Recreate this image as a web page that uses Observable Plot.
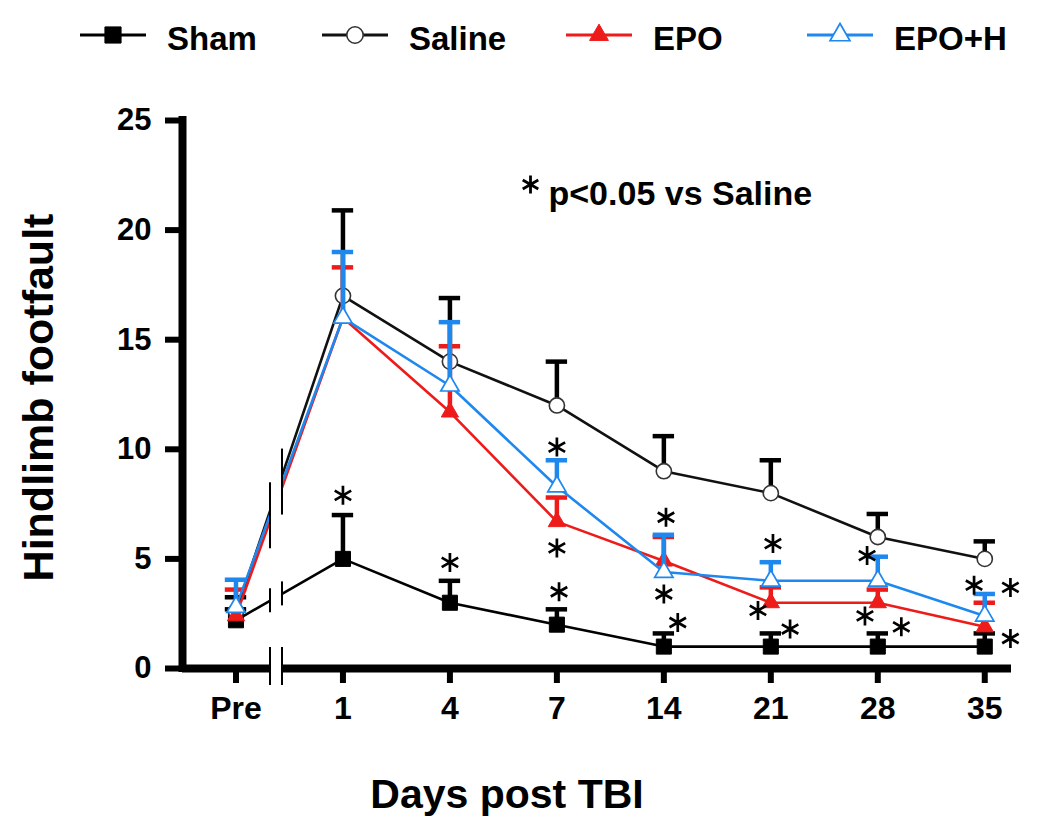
<!DOCTYPE html>
<html>
<head>
<meta charset="utf-8">
<script src="https://cdn.jsdelivr.net/npm/d3@7"></script>
<script src="https://cdn.jsdelivr.net/npm/@observablehq/plot@0.6"></script>
<style>
  html, body { margin: 0; padding: 0; background: #fff; }
  svg { display: block; }
</style>
</head>
<body>
<div id="legend"></div>
<div id="chart"></div>
<script>
// ---------------- data ----------------
const dayLabels = ["Pre", "1", "4", "7", "14", "21", "28", "35"];

const shamMean   = [2.2, 5.0, 3.0, 2.0, 1.0, 1.0, 1.0, 1.0];
const shamSem    = [0.5, 2.0, 1.0, 0.7, 0.6, 0.6, 0.6, 0.6];
const salineMean = [2.6, 17.0, 14.0, 12.0, 9.0, 8.0, 6.0, 5.0];
const salineSem  = [0.65, 3.9, 2.9, 2.0, 1.6, 1.5, 1.05, 0.8];
const epoMean    = [2.4, 16.0, 11.7, 6.7, 4.9, 3.0, 3.0, 1.9];
const epoSem     = [1.2, 2.3, 3.0, 1.1, 1.1, 0.7, 0.6, 1.1];
const epohMean   = [2.8, 16.0, 12.9, 8.3, 4.4, 4.0, 4.0, 2.4];
const epohSem    = [1.25, 3.0, 2.9, 1.2, 1.7, 0.85, 1.1, 1.0];

// significance asterisks (x in day-slot units, y in footfault units)
const starX = [1, 2, 3, 3, 3.02, 4.02, 4, 4.13, 5.02, 4.88, 5.18, 5.9, 5.88, 6.22, 6.9, 7.24, 7.24];
const starY = [7.9, 4.84, 10.1, 5.5, 3.5, 6.9, 3.4, 2.1, 5.7, 2.65, 1.8, 5.15, 2.4, 1.9, 3.8, 3.7, 1.37];

const yTicks = [0, 5, 10, 15, 20, 25];
const seriesNames = ["Sham", "Saline", "EPO", "EPO+H"];
const noteText = "p<0.05 vs Saline";
const xTitle = "Days post TBI";
const yTitle = "Hindlimb footfault";

// axis break position, as fraction of the Pre -> day 1 interval
const breakFrac = [0.318, 0.43];

// ---------------- styles ----------------
const FONT = "'Liberation Sans', Arial, Helvetica, sans-serif";
const RED = "#ee1b1b";
const BLUE = "#1e88ee";
const styles = {
  "Sham":   {line: "#000", err: "#000", symbol: "square",   r: 8.5, fill: "#000", stroke: "#000", sw: 1},
  "Saline": {line: "#111", err: "#000", symbol: "circle",   r: 7.6, fill: "#fff", stroke: "#333", sw: 1.6},
  "EPO":    {line: RED,    err: RED,    symbol: "triangle", r: 6.4, fill: RED,    stroke: RED,    sw: 1},
  "EPO+H":  {line: BLUE,   err: BLUE,   symbol: "triangle", r: 6.8, fill: "#fff", stroke: BLUE,   sw: 1.7}
};

const means = {"Sham": shamMean, "Saline": salineMean, "EPO": epoMean, "EPO+H": epohMean};
const sems  = {"Sham": shamSem,  "Saline": salineSem,  "EPO": epoSem,  "EPO+H": epohSem};

const rowsFor = name => means[name].map((m, i) => ({series: name, x: i, y: m, top: m + sems[name][i]}));

// ---------------- legend (HTML-side SVG above the plot) ----------------
(function legend() {
  const W = 1050, H = 70;
  const symX = [80, 322, 566, 807];
  const svg = d3.select("#legend").append("svg").attr("width", W).attr("height", H);
  seriesNames.forEach((name, k) => {
    const s = styles[name];
    const g = svg.append("g").attr("transform", `translate(${symX[k]},35)`);
    g.append("line").attr("x1", 0).attr("x2", 66).attr("y1", 0).attr("y2", 0)
      .attr("stroke", s.line).attr("stroke-width", 3);
    const sym = {square: d3.symbolSquare, circle: d3.symbolCircle, triangle: d3.symbolTriangle}[s.symbol];
    const size = Math.PI * (s.r + 0.6) * (s.r + 0.6);
    g.append("path").attr("transform", "translate(33,0)")
      .attr("d", d3.symbol(sym, size)())
      .attr("fill", s.fill).attr("stroke", s.stroke).attr("stroke-width", s.sw);
    svg.append("text").attr("x", symX[k] + 87).attr("y", 50)
      .attr("font-family", FONT).attr("font-weight", "bold").attr("font-size", 33)
      .attr("fill", "#000").text(name);
  });
})();

// ---------------- main plot ----------------
const xDomain = [-0.5, 7.25];
const yDomain = [0, 25];
const capHalf = 0.1;

const marks = [];

// series lines, error bars, markers
for (const name of seriesNames) {
  const s = styles[name];
  const data = rowsFor(name);
  marks.push(Plot.line(data, {x: "x", y: "y", stroke: s.line, strokeWidth: 2.6}));
  marks.push(Plot.ruleX(data, {x: "x", y1: "y", y2: "top", stroke: s.err, strokeWidth: 4.5}));
  marks.push(Plot.ruleY(data, {y: "top", x1: d => d.x - capHalf, x2: d => d.x + capHalf, stroke: s.err, strokeWidth: 4.5}));
  marks.push(Plot.dot(data, {x: "x", y: "y", symbol: s.symbol, r: s.r, fill: s.fill, stroke: s.stroke, strokeWidth: s.sw}));
}

// axis break: white gap + break ticks
const interp = (arr, f) => arr[0] + (arr[1] - arr[0]) * f;
const treatedMean = salineMean.map((v, i) => (v + epoMean[i] + epohMean[i]) / 3);
const breakUpper = breakFrac.map(f => ({x: f, y: interp(treatedMean, f)}));
const breakSham = breakFrac.map(f => ({x: f, y: interp(shamMean, f)}));

// axes lines
marks.push(Plot.ruleY([yDomain[0]], {stroke: "#000", strokeWidth: 8}));
marks.push(Plot.ruleX([xDomain[0]], {stroke: "#000", strokeWidth: 8, insetTop: -4, insetBottom: -4}));

marks.push(Plot.rect([0], {x1: breakFrac[0], x2: breakFrac[1], y1: yDomain[0], y2: yDomain[1], fill: "white", insetBottom: -7, insetLeft: 0.5, insetRight: 0.5}));
marks.push(Plot.ruleX(breakFrac, {x: d => d, y1: yDomain[0], y2: yDomain[0], stroke: "#000", strokeWidth: 2, insetTop: -21, insetBottom: -17}));
marks.push(Plot.ruleX(breakUpper, {x: "x", y1: "y", y2: "y", stroke: "#000", strokeWidth: 2, insetTop: -33, insetBottom: -33}));
marks.push(Plot.ruleX(breakSham, {x: "x", y1: "y", y2: "y", stroke: "#000", strokeWidth: 2, insetTop: -12, insetBottom: -12}));

// axes ticks and labels
marks.push(Plot.axisY({ticks: yTicks, tickSize: 17, tickPadding: 14, fontSize: 31, fontWeight: "bold", strokeWidth: 6, label: null}));
marks.push(Plot.axisX({ticks: dayLabels.map((d, i) => i), tickFormat: i => dayLabels[i], tickSize: 15, tickPadding: 13, fontSize: 32, fontWeight: "bold", strokeWidth: 6, label: null}));

// significance stars
const stars = starX.map((x, i) => ({x, y: starY[i]}));
marks.push(Plot.dot(stars, {x: "x", y: "y", symbol: "asterisk", r: 9, stroke: "#000", strokeWidth: 2.7}));

// note
marks.push(Plot.dot([0], {frameAnchor: "top-left", dx: 348, dy: 64, symbol: "asterisk", r: 8.5, stroke: "#000", strokeWidth: 2.8}));
marks.push(Plot.text([noteText], {frameAnchor: "top-left", dx: 366, dy: 74, textAnchor: "start", lineAnchor: "middle", fontSize: 34, fontWeight: "bold", fill: "#000"}));

// titles
marks.push(Plot.text([yTitle], {frameAnchor: "left", dx: -143, dy: 3, rotate: -90, textAnchor: "middle", lineAnchor: "middle", fontSize: 43, fontWeight: "bold", fill: "#000"}));
marks.push(Plot.text([xTitle], {frameAnchor: "bottom", dx: -90, dy: 126, textAnchor: "middle", lineAnchor: "middle", fontSize: 41, fontWeight: "bold", fill: "#000"}));

const chart = Plot.plot({
  width: 1050,
  height: 764,
  marginTop: 50,
  marginBottom: 166,
  marginLeft: 182,
  marginRight: 39,
  x: {domain: xDomain, axis: null},
  y: {domain: yDomain, axis: null},
  style: {fontFamily: FONT, color: "#000", background: "#fff", overflow: "visible"},
  marks
});
document.getElementById("chart").appendChild(chart);
</script>
</body>
</html>
